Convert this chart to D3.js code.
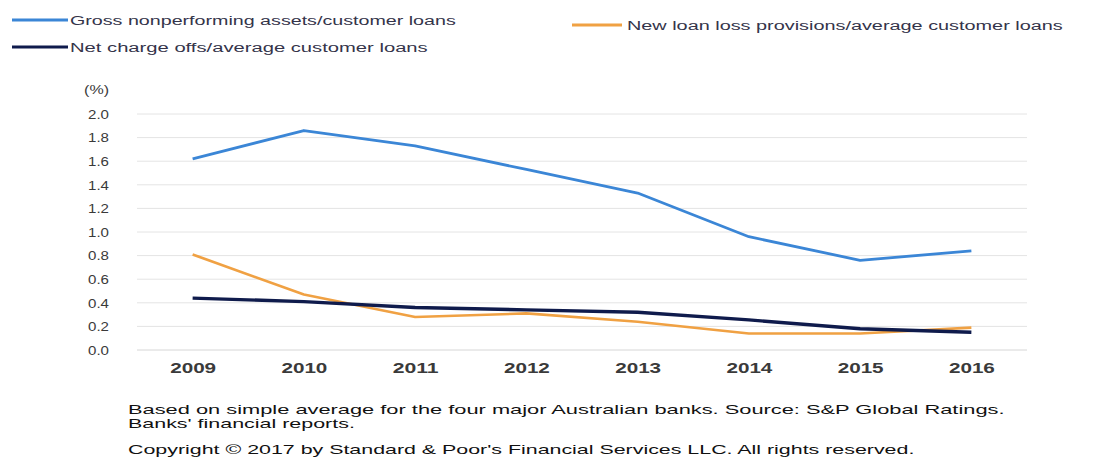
<!DOCTYPE html>
<html>
<head>
<meta charset="utf-8">
<script src="https://cdn.jsdelivr.net/npm/d3@7"></script>
<style>
  html, body { margin: 0; padding: 0; background: #fff; }
  svg { display: block; font-family: "Liberation Sans", Arial, sans-serif; }
</style>
</head>
<body>
<svg id="chart" width="1099" height="460"></svg>
<script>
// Australian major banks: asset quality ratios (%)
const years = ["2009", "2010", "2011", "2012", "2013", "2014", "2015", "2016"];
const grossNPA = [1.62, 1.86, 1.73, 1.53, 1.33, 0.96, 0.76, 0.84];
const newLoanProvisions = [0.81, 0.47, 0.28, 0.31, 0.24, 0.14, 0.14, 0.19];
const netChargeOffs = [0.44, 0.41, 0.36, 0.34, 0.32, 0.255, 0.18, 0.15];
const yTicks = [0, 0.2, 0.4, 0.6, 0.8, 1.0, 1.2, 1.4, 1.6, 1.8, 2.0];

const seriesNames = [
  "Gross nonperforming assets/customer loans",
  "New loan loss provisions/average customer loans",
  "Net charge offs/average customer loans"
];
const footnotes = [
  "Based on simple average for the four major Australian banks. Source: S&P Global  Ratings.",
  "Banks' financial reports.",
  "Copyright \u00A9 2017 by Standard & Poor's Financial Services LLC. All rights reserved."
];

const series = [
  { name: seriesNames[0], values: grossNPA, color: "#3b86d6", width: 2.8 },
  { name: seriesNames[1], values: newLoanProvisions, color: "#f0a143", width: 2.6 },
  { name: seriesNames[2], values: netChargeOffs, color: "#0f1b4c", width: 3.4 }
];

const svg = d3.select("#chart");

// Widen a text element horizontally about its anchor so it spans `target` px.
function widen(node, target) {
  const w = node.getComputedTextLength();
  if (!w) return;
  const s = target / w;
  const base = node.getAttribute("transform") || "";
  node.setAttribute("transform", base + ` scale(${s},1)`);
}

const x = d3.scalePoint().domain(years).range([137, 1027]).padding(0.5);
const y = d3.scaleLinear().domain([0, 2]).range([350, 114]);

// horizontal gridlines
svg.append("g")
  .selectAll("line")
  .data(yTicks)
  .join("line")
  .attr("x1", 137).attr("x2", 1027)
  .attr("y1", d => y(d)).attr("y2", d => y(d))
  .attr("stroke", d => d === 0 ? "#d6d6d6" : "#e4e4e4")
  .attr("stroke-width", 1);

// y axis labels
const yAxis = d3.axisLeft(y).tickValues(yTicks).tickFormat(d3.format(".1f")).tickSize(0).tickPadding(0);
const yG = svg.append("g").attr("transform", "translate(109,0)").call(yAxis);
yG.select(".domain").remove();
yG.selectAll("text")
  .attr("font-size", 12.5)
  .attr("fill", "#3a3a3a")
  .attr("dy", "0.35em")
  .each(function () { widen(this, 21); });

svg.append("text")
  .attr("transform", "translate(109,94)")
  .attr("text-anchor", "end")
  .attr("font-size", 12.5)
  .attr("fill", "#3a3a3a")
  .text("(%)")
  .each(function () { widen(this, 25); });

// x axis labels
const xAxis = d3.axisBottom(x).tickSize(0).tickPadding(0);
const xG = svg.append("g").attr("transform", "translate(0,363)").call(xAxis);
xG.select(".domain").remove();
xG.selectAll("text")
  .attr("font-size", 14.5)
  .attr("font-weight", "bold")
  .attr("fill", "#3a3a3a")
  .attr("dy", "0.71em")
  .each(function () { widen(this, 46); });

// series lines
const line = d3.line()
  .x((d, i) => x(years[i]))
  .y(d => y(d));

svg.append("g")
  .selectAll("path")
  .data([series[0], series[1], series[2]])
  .join("path")
  .attr("d", d => line(d.values))
  .attr("fill", "none")
  .attr("stroke", d => d.color)
  .attr("stroke-width", d => d.width)
  .attr("stroke-linejoin", "round");

// legend
const legend = [
  { s: series[0], x: 12, y: 20, len: 386 },
  { s: series[2], x: 12, y: 47, len: 358 },
  { s: series[1], x: 572, y: 25, len: 436 }
];
const lg = svg.append("g").selectAll("g").data(legend).join("g")
  .attr("transform", d => `translate(${d.x},${d.y})`);
lg.append("line")
  .attr("x1", 0).attr("x2", d => d.s === series[1] ? 50 : 56)
  .attr("y1", 0).attr("y2", 0)
  .attr("stroke", d => d.s.color)
  .attr("stroke-width", d => d.s === series[2] ? 3.2 : 2.8);
lg.append("text")
  .attr("transform", d => `translate(${d.s === series[1] ? 55 : 58},0)`)
  .attr("dy", "0.36em")
  .attr("font-size", 13.5)
  .attr("fill", "#34344a")
  .text(d => d.s.name)
  .each(function (d) { widen(this, d.len); });

// footnotes
const notePos = [
  { y: 414, len: 877 },
  { y: 428, len: 227 },
  { y: 454, len: 787 }
];
svg.append("g").selectAll("text")
  .data(footnotes)
  .join("text")
  .attr("transform", (d, i) => `translate(128,${notePos[i].y})`)
  .attr("font-size", 13.5)
  .attr("fill", "#111")
  .text(d => d)
  .each(function (d, i) { widen(this, notePos[i].len); });
</script>
</body>
</html>
